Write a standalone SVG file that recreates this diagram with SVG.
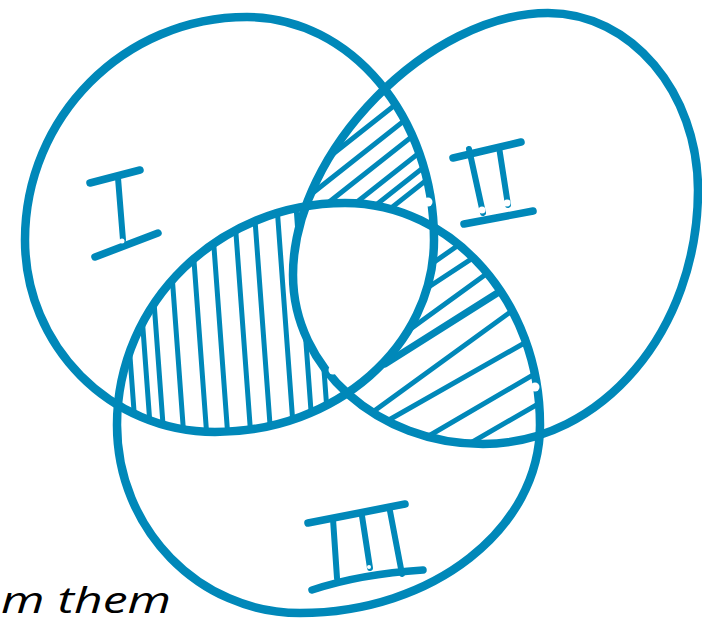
<svg xmlns="http://www.w3.org/2000/svg" width="702" height="623" viewBox="0 0 702 623">
<style>
.ring{fill:none;stroke:#0088b9;stroke-width:8.5}
.h{stroke:#0088b9;stroke-width:5;stroke-linecap:round;fill:none}
.num{stroke:#0088b9;stroke-width:7.5;stroke-linecap:round;stroke-linejoin:round;fill:none}
.stem{stroke:#0088b9;stroke-width:6;stroke-linecap:round;fill:none}
.dot{fill:#fff}
.cap{font-family:"Open Sans","Liberation Sans",sans-serif;font-style:italic;font-size:37px;fill:#000}
</style>
<defs>
<path id="pI" d="M247,17 C350.3,17 434,116.8 434,240 C434,346 336,432 215,432 C110.1,432 25,346 25,240 C25,116.8 124.4,17 247,17 Z"/>
<path id="pII" d="M548,13 C630.8,13 698,92.2 698,190 C698,330.3 601.7,444 483,444 C378.1,444 293,368.3 293,275 C293,150 430,13 548,13 Z"/>
<path id="pIII" d="M345,203 C452.7,203 540,302.4 540,425 C540,528.8 432.6,613 300,613 C198.9,613 117,528.8 117,425 C117,302.4 219.1,203 345,203 Z"/>
<clipPath id="cI"><use href="#pI"/></clipPath>
<clipPath id="cII"><use href="#pII"/></clipPath>
<clipPath id="cIII"><use href="#pIII"/></clipPath>
<mask id="mNotI" maskUnits="userSpaceOnUse" x="0" y="0" width="702" height="623"><rect width="702" height="623" fill="#fff"/><use href="#pI" fill="#000"/></mask>
<mask id="mNotII" maskUnits="userSpaceOnUse" x="0" y="0" width="702" height="623"><rect width="702" height="623" fill="#fff"/><use href="#pII" fill="#000"/></mask>
<mask id="mNotIII" maskUnits="userSpaceOnUse" x="0" y="0" width="702" height="623"><rect width="702" height="623" fill="#fff"/><use href="#pIII" fill="#000"/></mask>
</defs>
<rect width="702" height="623" fill="#fff"/>

<g id="hatching">
<g id="hatch-I-II" clip-path="url(#cI)"><g clip-path="url(#cII)"><g mask="url(#mNotIII)">
<line class="h" x1="290" y1="187.9" x2="445" y2="65.5"/>
<line class="h" x1="290" y1="210.9" x2="445" y2="88.5"/>
<line class="h" x1="290" y1="232.9" x2="445" y2="110.5"/>
<line class="h" x1="290" y1="254.9" x2="445" y2="132.5"/>
<line class="h" x1="290" y1="272.9" x2="445" y2="150.5"/>
<line class="h" x1="290" y1="287.9" x2="445" y2="165.5"/>
</g></g></g>
<g id="hatch-I-III" clip-path="url(#cI)"><g clip-path="url(#cIII)"><g mask="url(#mNotII)">
<line class="h" x1="117.8" y1="190" x2="136.5" y2="445"/>
<line class="h" x1="132.8" y1="190" x2="151.5" y2="445"/>
<line class="h" x1="145.8" y1="190" x2="164.5" y2="445"/>
<line class="h" x1="165.8" y1="190" x2="184.5" y2="445"/>
<line class="h" x1="188.8" y1="190" x2="207.5" y2="445"/>
<line class="h" x1="209.8" y1="190" x2="228.5" y2="445"/>
<line class="h" x1="232.8" y1="190" x2="251.5" y2="445"/>
<line class="h" x1="252.8" y1="190" x2="271.5" y2="445"/>
<line class="h" x1="275.8" y1="190" x2="294.5" y2="445"/>
<line class="h" x1="294.8" y1="190" x2="313.5" y2="445"/>
<line class="h" x1="310.8" y1="190" x2="329.5" y2="445"/>
</g></g></g>
<g id="hatch-II-III" clip-path="url(#cII)"><g clip-path="url(#cIII)"><g mask="url(#mNotI)">
<line class="h" x1="420" y1="272" x2="470" y2="237"/>
<line class="h" x1="415" y1="296" x2="485" y2="250"/>
<line class="h" x1="405" y1="333" x2="500" y2="264"/>
<line class="h" x1="385" y1="364" x2="510" y2="285" style="stroke-width:7"/>
<line class="h" x1="370" y1="414" x2="520" y2="305"/>
<line class="h" x1="380" y1="425" x2="535" y2="337"/>
<line class="h" x1="415" y1="444" x2="545" y2="368"/>
<line class="h" x1="455" y1="452" x2="550" y2="397"/>
</g></g></g>
</g>

<g id="set-I">
<use href="#pI" class="ring"/>
<path class="num" d="M90,183 L140,170"/>
<path class="stem" d="M118,178 L123,240"/>
<path class="num" d="M95,257 L158,233"/>
</g>
<g id="set-II">
<use href="#pII" class="ring"/>
<path class="num" d="M453,158 L521,142"/>
<path class="stem" d="M469,149 L483,213"/>
<path class="stem" d="M499,147 L508,205"/>
<path class="num" d="M464,224 L533,211"/>
</g>
<g id="set-III">
<use href="#pIII" class="ring"/>
<path class="num" d="M308,523 L405,504"/>
<path class="stem" d="M333,519 L337,578"/>
<path class="stem" d="M362,516 L370,568"/>
<path class="stem" d="M390,511 L402,574"/>
<path class="num" d="M312,590 Q360,574 423,570"/>
</g>

<g id="marks">
<circle class="dot" cx="428" cy="202" r="4.5"/>
<circle class="dot" cx="333" cy="370" r="4.5"/>
<circle class="dot" cx="535" cy="387" r="4.5"/>
<circle class="dot" cx="122" cy="241" r="2.5"/>
<circle class="dot" cx="482" cy="210" r="3.5"/>
<circle class="dot" cx="507" cy="203" r="3.5"/>
<circle class="dot" cx="369" cy="567" r="2"/>
</g>

<text class="cap" x="1" y="613" textLength="170" lengthAdjust="spacingAndGlyphs">m them</text>
</svg>
